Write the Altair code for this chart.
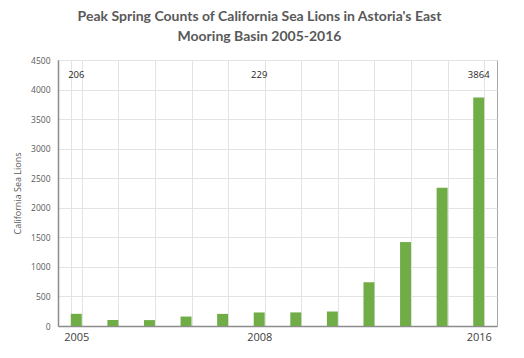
import altair as alt
import pandas as pd

years = [2005, 2006, 2007, 2008, 2009, 2010, 2011, 2012, 2013, 2014, 2015, 2016]
counts = [206, 100, 100, 160, 205, 229, 230, 245, 740, 1420, 2340, 3864]
shown_labels = {2005: "2005", 2010: "2008", 2016: "2016"}
note_years = [2005, 2010, 2016]
note_texts = ["206", "229", "3864"]
note_level = [4250, 4250, 4250]
y_ticks = [0, 500, 1000, 1500, 2000, 2500, 3000, 3500, 4000, 4500]

df = pd.DataFrame({"year": years, "count": counts})
notes = pd.DataFrame({"year": note_years, "text": note_texts, "level": note_level})

label_expr = " : ".join(
    [f"datum.value == {k} ? '{v}'" for k, v in shown_labels.items()]
) + " : ''"

x_axis = alt.Axis(
    title=None,
    labelAngle=0,
    labelExpr=label_expr,
    labelFont="Open Sans",
    labelFontSize=11,
    labelColor="#404040",
    labelPadding=5,
    ticks=False,
    tickBand="extent",
    grid=True,
    gridColor="#e3e3e3",
    domainColor="#8c8c8c",
    domainWidth=1.5,
)
x_scale = alt.Scale(paddingInner=0.7, paddingOuter=0.35)

y_axis = alt.Axis(
    title="California Sea Lions",
    values=y_ticks,
    format="d",
    labelOverlap=False,
    labelFont="Open Sans",
    labelFontSize=8.5,
    labelColor="#595959",
    labelPadding=8,
    ticks=False,
    titleFont="Open Sans",
    titleFontSize=9,
    titleFontWeight="normal",
    titleColor="#595959",
    titlePadding=8,
    gridColor="#e3e3e3",
    domainColor="#8c8c8c",
    domainWidth=1.5,
)
y_scale = alt.Scale(domain=[0, 4500], nice=False)

bars = alt.Chart(df).mark_bar(color="#70ad47").encode(
    x=alt.X("year:O", scale=x_scale, axis=x_axis),
    y=alt.Y("count:Q", scale=y_scale, axis=y_axis),
)

text = alt.Chart(notes).mark_text(
    font="Open Sans", fontSize=9.5, color="#262626"
).encode(
    x=alt.X("year:O", scale=x_scale, axis=x_axis),
    y=alt.Y("level:Q", scale=y_scale, axis=y_axis),
    text="text:N",
)

chart = (
    alt.layer(bars, text)
    .properties(
        width=439,
        height=266,
        autosize=alt.AutoSizeParams(type="none"),
        padding={"left": 50, "top": 52, "right": 10, "bottom": 20},
        title=alt.Title(
            ["Peak Spring Counts of California Sea Lions in Astoria's East", "Mooring Basin 2005-2016"],
            font="Lato",
            fontSize=14,
            fontWeight="bold",
            color="#595959",
            lineHeight=20,
            offset=12,
            dx=-18,
        ),
    )
    .configure_view(stroke="#a6a6a6", strokeWidth=1)
)

chart.save("out.html", embed_options={"renderer": "svg", "actions": False})
